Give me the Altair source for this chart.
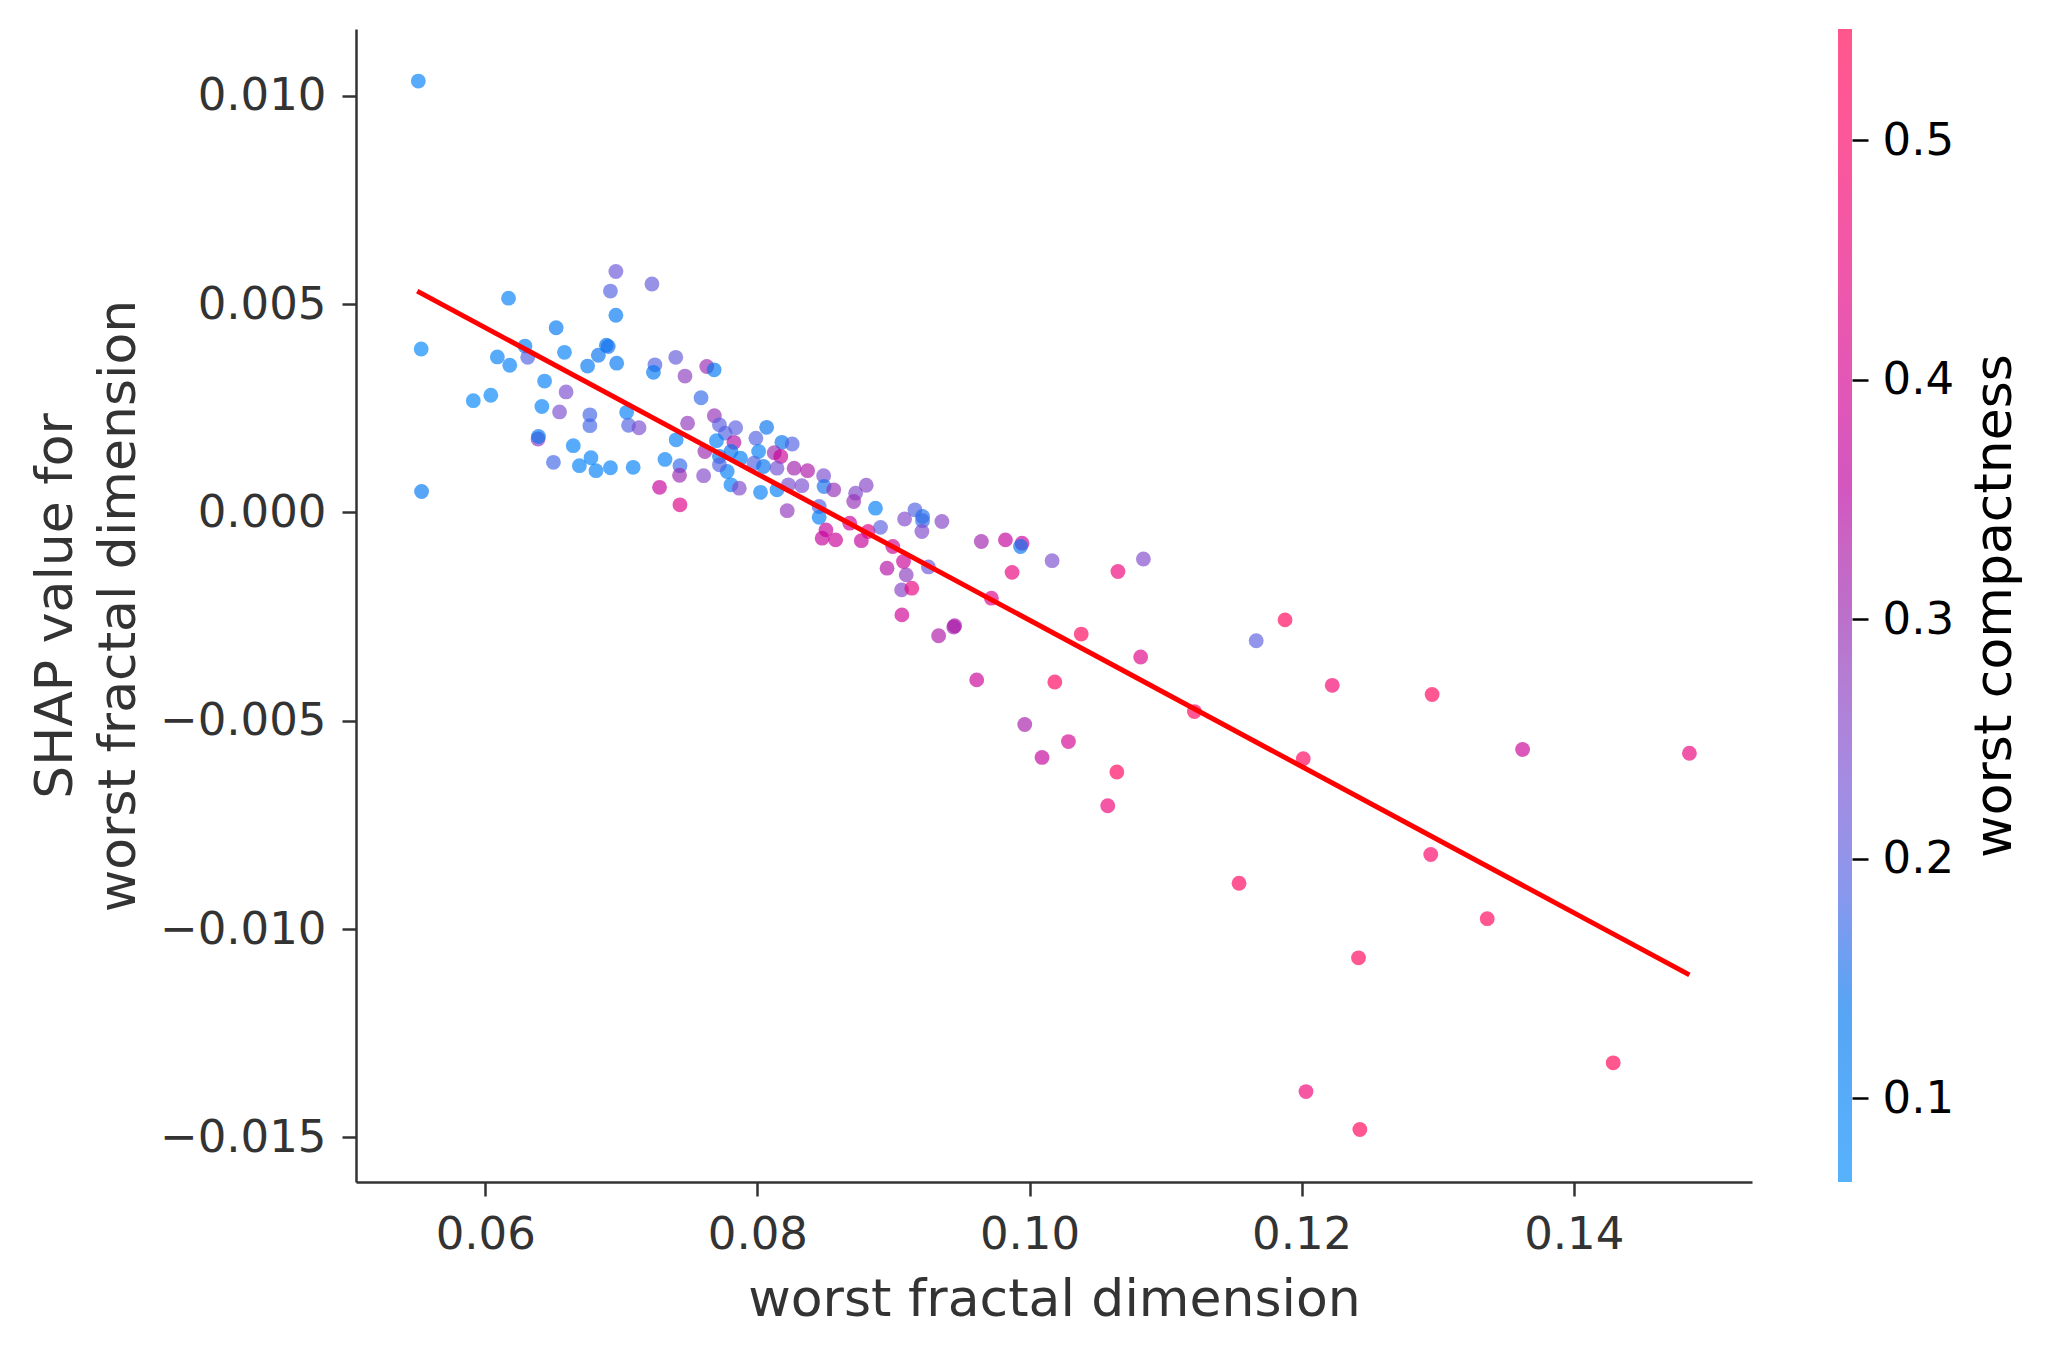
import altair as alt
import numpy as np
import pandas as pd

# ---------------- data ----------------
fractal_dim = [
    0.05529, 0.05532, 0.06171, 0.05912, 0.06041, 0.06089, 0.06180, 0.06292, 0.06312, 0.06436,
    0.06521, 0.06582, 0.06416, 0.06594, 0.06546, 0.06388, 0.06391, 0.06647, 0.06501, 0.06692,
    0.06777, 0.06814, 0.06920, 0.07087, 0.06752, 0.06831, 0.06890, 0.06904, 0.06966, 0.06960,
    0.06920, 0.06960, 0.07225, 0.06769, 0.06769, 0.07039, 0.07053, 0.07130, 0.07247, 0.07236,
    0.07400, 0.07468, 0.07628, 0.07682, 0.07586, 0.07487, 0.07403, 0.07321, 0.07431, 0.07428,
    0.07281, 0.07431, 0.07605, 0.07684, 0.07721, 0.07840, 0.07764, 0.07828, 0.07699, 0.07614,
    0.07721, 0.07806, 0.07876, 0.07778, 0.07721, 0.07806, 0.07867, 0.07989, 0.08068, 0.08009,
    0.07975, 0.08045, 0.08023, 0.08144, 0.08180, 0.08256, 0.08124, 0.08172, 0.08144, 0.08270,
    0.08369, 0.08228, 0.08327, 0.08219, 0.08487, 0.08490, 0.08561, 0.08454, 0.08454, 0.08504,
    0.08476, 0.08575, 0.08722, 0.08800, 0.08708, 0.08679, 0.08764, 0.08814, 0.08868, 0.08905,
    0.08995, 0.08953, 0.09074, 0.09094, 0.09060, 0.09135, 0.09082, 0.09158, 0.09214, 0.09214,
    0.09209, 0.09356, 0.09257, 0.09062, 0.09332, 0.09443, 0.09450, 0.09646, 0.09823, 0.09945,
    0.09934, 0.10166, 0.09872, 0.09720, 0.10650, 0.10837, 0.10380, 0.10817, 0.10186, 0.09612,
    0.05508, 0.09965, 0.10092, 0.10286, 0.10642, 0.10575, 0.11212, 0.11540, 0.11666, 0.11878,
    0.12012, 0.12225, 0.12032, 0.12418, 0.12428, 0.12959, 0.12949, 0.13364, 0.13624, 0.14290,
    0.14850,
]
shap_value = [
    0.00392, 0.00050, 0.00514, 0.00268, 0.00281, 0.00373, 0.00353, 0.00399, 0.00372, 0.00315,
    0.00443, 0.00384, 0.00254, 0.00289, 0.00241, 0.00176, 0.00182, 0.00160, 0.00120, 0.00112,
    0.00131, 0.00100, 0.00107, 0.00108, 0.00351, 0.00377, 0.00401, 0.00398, 0.00358, 0.00473,
    0.00531, 0.00578, 0.00548, 0.00234, 0.00208, 0.00240, 0.00209, 0.00203, 0.00354, 0.00336,
    0.00372, 0.00327, 0.00350, 0.00342, 0.00275, 0.00214, 0.00174, 0.00127, 0.00112, 0.00089,
    0.00060, 0.00018, 0.00088, 0.00232, 0.00210, 0.00203, 0.00190, 0.00168, 0.00172, 0.00146,
    0.00134, 0.00146, 0.00130, 0.00098, 0.00114, 0.00066, 0.00058, 0.00178, 0.00204, 0.00146,
    0.00118, 0.00110, 0.00048, 0.00054, 0.00168, 0.00164, 0.00143, 0.00134, 0.00106, 0.00106,
    0.00100, 0.00066, 0.00064, 0.00004, 0.00088, 0.00062, 0.00054, 0.00014, -0.00012, -0.00042,
    -0.00062, -0.00066, 0.00046, 0.00065, 0.00026, -0.00026, -0.00068, -0.00046, 0.00010, -0.00036,
    -0.00082, -0.00134, -0.00118, -0.00150, -0.00186, -0.00182, -0.00016, 0.00006, -0.00010, -0.00020,
    -0.00046, -0.00022, -0.00131, -0.00246, -0.00296, -0.00275, -0.00272, -0.00070, -0.00066, -0.00074,
    -0.00082, -0.00116, -0.00144, -0.00206, -0.00142, -0.00112, -0.00292, -0.00347, -0.00407, -0.00402,
    0.01035, -0.00509, -0.00588, -0.00550, -0.00623, -0.00704, -0.00478, -0.00890, -0.00308, -0.00258,
    -0.00591, -0.00415, -0.01390, -0.01069, -0.01481, -0.00437, -0.00821, -0.00975, -0.00569, -0.01321,
    -0.00578,
]
compactness = [
    0.09, 0.13, 0.10, 0.09, 0.09, 0.10, 0.10, 0.11, 0.19, 0.10,
    0.13, 0.10, 0.10, 0.24, 0.24, 0.28, 0.13, 0.10, 0.18, 0.10,
    0.10, 0.10, 0.10, 0.10, 0.13, 0.14, 0.13, 0.15, 0.13, 0.13,
    0.19, 0.22, 0.21, 0.18, 0.18, 0.10, 0.19, 0.24, 0.19, 0.13,
    0.21, 0.27, 0.30, 0.13, 0.17, 0.28, 0.10, 0.10, 0.17, 0.30,
    0.37, 0.42, 0.25, 0.29, 0.20, 0.20, 0.19, 0.34, 0.10, 0.30,
    0.13, 0.14, 0.11, 0.11, 0.19, 0.10, 0.25, 0.19, 0.14, 0.11,
    0.19, 0.14, 0.10, 0.10, 0.14, 0.19, 0.30, 0.38, 0.23, 0.31,
    0.33, 0.24, 0.24, 0.28, 0.24, 0.15, 0.29, 0.19, 0.11, 0.37,
    0.37, 0.38, 0.25, 0.26, 0.29, 0.38, 0.37, 0.42, 0.11, 0.20,
    0.38, 0.34, 0.38, 0.27, 0.26, 0.45, 0.25, 0.19, 0.16, 0.17,
    0.25, 0.26, 0.22, 0.39, 0.33, 0.31, 0.33, 0.31, 0.37, 0.37,
    0.14, 0.24, 0.45, 0.41, 0.46, 0.25, 0.53, 0.42, 0.52, 0.38,
    0.10, 0.32, 0.37, 0.40, 0.52, 0.46, 0.52, 0.52, 0.20, 0.53,
    0.52, 0.48, 0.47, 0.53, 0.53, 0.53, 0.50, 0.53, 0.38, 0.54,
    0.45,
]

# fitted trend line end points
line_x = [0.0550, 0.1485]
line_y = [0.00531, -0.0111]

# axis ticks
x_ticks = [0.06, 0.08, 0.10, 0.12, 0.14]
y_ticks = [-0.015, -0.010, -0.005, 0.0, 0.005, 0.010]
c_ticks = [0.1, 0.2, 0.3, 0.4, 0.5]
c_domain = [0.0651, 0.5465]
x_domain = [0.0505, 0.1531]
y_domain = [-0.01607, 0.0116]

# ---------------- SHAP red_blue colormap (Lch interpolation) ----------------
def lch2rgb(l, c, h):
    a = c * np.cos(h)
    b = c * np.sin(h)
    fy = (l + 16.0) / 116.0
    fx = fy + a / 500.0
    fz = fy - b / 200.0

    def finv(t):
        return t ** 3 if t > 6 / 29 else 3 * (6 / 29) ** 2 * (t - 4 / 29)

    X = 0.95047 * finv(fx)
    Y = 1.0 * finv(fy)
    Z = 1.08883 * finv(fz)
    M = np.array([[3.2406, -1.5372, -0.4986],
                  [-0.9689, 1.8758, 0.0415],
                  [0.0557, -0.2040, 1.0570]])
    lin = M @ np.array([X, Y, Z])
    out = []
    for v in lin:
        v = 1.055 * abs(v) ** (1 / 2.4) - 0.055 if v > 0.0031308 else 12.92 * v
        out.append(min(max(v, 0.0), 1.0))
    return out


nsteps = 21
blue_lch = [54.0, 70.0, 4.6588]
red_lch = [54.0, 90.0, 0.35470565 + 2 * np.pi]
l_mid = 40.0
half = nsteps // 2 + 1
l_vals = list(np.linspace(blue_lch[0], l_mid, half)) + list(np.linspace(l_mid, red_lch[0], half))[1:]
c_vals = np.linspace(blue_lch[1], red_lch[1], nsteps)
h_vals = np.linspace(blue_lch[2], red_lch[2], nsteps)
cmap_rgb = [lch2rgb(l, c, h) for l, c, h in zip(l_vals, c_vals, h_vals)]

ALPHA = 0.66


def to_hex(rgb):
    return "#" + "".join(f"{int(round(v * 255)):02x}" for v in rgb)


cmap_hex = [to_hex(c) for c in cmap_rgb]
cmap_blend = [to_hex([ALPHA * v + (1 - ALPHA) for v in c]) for c in cmap_rgb]

# ---------------- chart ----------------
FONT = "DejaVu Sans"
W, H = 1396, 1153

df = pd.DataFrame({"x": fractal_dim, "y": shap_value, "c": compactness})
line_df = pd.DataFrame({"x": line_x, "y": line_y})

xscale = alt.Scale(domain=x_domain, nice=False, zero=False)
yscale = alt.Scale(domain=y_domain, nice=False, zero=False)

x_axis = alt.Axis(values=x_ticks, format=".2f", title="worst fractal dimension",
                  grid=False, tickSize=14, tickWidth=2.5, tickColor="#333333",
                  domainColor="#333333", domainWidth=2.5, labelFont=FONT, labelFontSize=45,
                  labelColor="#333333", labelPadding=16, titleFont=FONT, titleFontSize=52,
                  titleFontWeight="normal", titleColor="#333333", titlePadding=17)
y_axis = alt.Axis(values=y_ticks, format=".3f", title=["SHAP value for", "worst fractal dimension"],
                  grid=False, tickSize=14, tickWidth=2.5, tickColor="#333333",
                  domainColor="#333333", domainWidth=2.5, labelFont=FONT, labelFontSize=45,
                  labelColor="#333333", labelPadding=16, titleFont=FONT, titleFontSize=52,
                  titleFontWeight="normal", titleColor="#333333", titlePadding=14,
                  titleLineHeight=63)

points = alt.Chart(df).mark_circle(size=220, opacity=ALPHA, strokeWidth=0).encode(
    x=alt.X("x:Q", scale=xscale, axis=x_axis),
    y=alt.Y("y:Q", scale=yscale, axis=y_axis),
    color=alt.Color("c:Q", scale=alt.Scale(domain=c_domain, range=cmap_hex, interpolate="rgb",
                                           clamp=True), legend=None),
)

trend = alt.Chart(line_df).mark_line(color="#ff0000", strokeWidth=5).encode(
    x=alt.X("x:Q", scale=xscale),
    y=alt.Y("y:Q", scale=yscale),
)

main = alt.layer(points, trend).properties(width=W, height=H)

cb_df = pd.DataFrame({"lo": [c_domain[0]], "hi": [c_domain[1]]})
gradient = alt.LinearGradient(
    gradient="linear",
    stops=[alt.GradientStop(color=col, offset=float(i) / (len(cmap_blend) - 1))
           for i, col in enumerate(cmap_blend)],
    x1=0, x2=0, y1=1, y2=0,
)
cbar = alt.Chart(cb_df).mark_rect(color=gradient, strokeWidth=0).encode(
    x=alt.value(0), x2=alt.value(14),
    y=alt.Y("lo:Q", scale=alt.Scale(domain=c_domain, nice=False, zero=False),
            axis=alt.Axis(orient="right", values=c_ticks, format=".1f", title="worst compactness",
                          grid=False, domain=False, tickSize=16, tickWidth=2.5, tickColor="#000000",
                          labelFont=FONT, labelFontSize=45, labelColor="#000000", labelPadding=14,
                          titleFont=FONT, titleFontSize=52, titleFontWeight="normal",
                          titleColor="#000000", titleAngle=270, titleAlign="center",
                          titleBaseline="alphabetic", titleX=158, titleY=H / 2)),
    y2="hi:Q",
).properties(width=14, height=H)

chart = alt.hconcat(main, cbar, spacing=86).configure_view(stroke=None).properties(
    padding={"left": 21, "top": 21, "right": 5, "bottom": 5}
)

chart.save("out.html", embed_options={"renderer": "svg", "actions": False})
